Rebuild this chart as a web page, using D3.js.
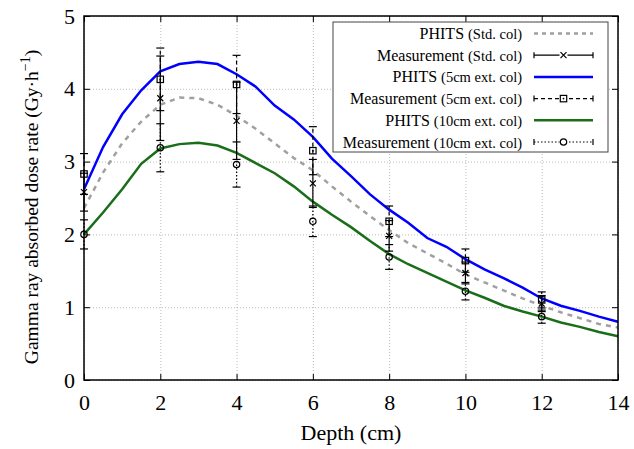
<!DOCTYPE html>
<html>
<head>
<meta charset="utf-8">
<script src="https://cdn.jsdelivr.net/npm/d3@7"></script>
<title>Gamma ray absorbed dose rate vs depth</title>
<style>
body { margin: 0; background: #fff; }
text { font-family: "Liberation Serif", "Times New Roman", serif; fill: #000; }
</style>
</head>
<body>
<div id="viz"></div>
<script>

// PHITS calculations, every 0.5 cm
var depthPHITS = [0,0.5,1,1.5,2,2.5,3,3.5,4,4.5,5,5.5,6,6.5,7,7.5,8,8.5,9,9.5,10,10.5,11,11.5,12,12.5,13,13.5,14];
var phitsStd = [2.36,2.85,3.25,3.55,3.78,3.88,3.87,3.78,3.63,3.45,3.25,3.05,2.88,2.66,2.45,2.25,2.06,1.88,1.74,1.60,1.45,1.34,1.23,1.12,1.02,0.93,0.85,0.77,0.72];
var phits5 = [2.62,3.20,3.65,3.98,4.24,4.34,4.37,4.34,4.20,4.03,3.77,3.58,3.34,3.04,2.80,2.55,2.34,2.16,1.95,1.83,1.66,1.52,1.40,1.27,1.12,1.02,0.95,0.87,0.80];
var phits10 = [2.00,2.30,2.62,2.97,3.18,3.24,3.26,3.22,3.12,2.98,2.84,2.66,2.45,2.27,2.10,1.91,1.73,1.59,1.47,1.35,1.23,1.13,1.02,0.94,0.87,0.79,0.73,0.66,0.60];

// measurements
var depthMeas = [0,2,4,6,8,10,12];
var measStd = [2.58,3.87,3.56,2.70,1.98,1.47,1.05];
var errStd = [0.26,0.58,0.53,0.33,0.21,0.15,0.11];
var meas5 = [2.83,4.13,4.06,3.15,2.18,1.64,1.10];
var err5 = [0.28,0.43,0.40,0.33,0.21,0.16,0.11];
var meas10 = [2.00,3.19,2.96,2.18,1.69,1.22,0.87];
var err10 = [0.20,0.33,0.31,0.21,0.17,0.12,0.09];

var xTicks = [0,2,4,6,8,10,12,14];
var yTicks = [0,1,2,3,4,5];

var W = 634, H = 449;
var pL = 84, pR = 618, pT = 16, pB = 380;

var svg = d3.select("#viz").append("svg")
    .attr("width", W).attr("height", H);

var x = d3.scaleLinear().domain([0, 14]).range([pL, pR]);
var y = d3.scaleLinear().domain([0, 5]).range([pB, pT]);

// grid
svg.append("g")
    .attr("transform", "translate(0," + pB + ")")
    .call(d3.axisBottom(x).tickValues(xTicks).tickSize(-(pB - pT)).tickFormat(""))
    .call(function(g){
        g.select(".domain").remove();
        g.selectAll("line").attr("stroke", "#aaa").attr("stroke-width", 0.8).attr("stroke-dasharray", "1,2");
    });
svg.append("g")
    .attr("transform", "translate(" + pL + ",0)")
    .call(d3.axisLeft(y).tickValues(yTicks).tickSize(-(pR - pL)).tickFormat(""))
    .call(function(g){
        g.select(".domain").remove();
        g.selectAll("line").attr("stroke", "#aaa").attr("stroke-width", 0.8).attr("stroke-dasharray", "1,2");
    });

// axes with inward ticks
function styleAxis(g){
    g.select(".domain").remove();
    g.selectAll("line").attr("stroke", "#000").attr("stroke-width", 1);
    g.selectAll("text").style("font-size", "22px").attr("font-family", null);
}
svg.append("g")
    .attr("transform", "translate(0," + pB + ")")
    .call(d3.axisBottom(x).tickValues(xTicks).tickSizeInner(-6).tickSizeOuter(0).tickPadding(14).tickFormat(d3.format("d")))
    .call(styleAxis);
svg.append("g")
    .attr("transform", "translate(0," + pT + ")")
    .call(d3.axisTop(x).tickValues(xTicks).tickSizeInner(-6).tickSizeOuter(0).tickFormat(""))
    .call(styleAxis);
svg.append("g")
    .attr("transform", "translate(" + pL + ",0)")
    .call(d3.axisLeft(y).tickValues(yTicks).tickSizeInner(-6).tickSizeOuter(0).tickPadding(9).tickFormat(d3.format("d")))
    .call(styleAxis);
svg.append("g")
    .attr("transform", "translate(" + pR + ",0)")
    .call(d3.axisRight(y).tickValues(yTicks).tickSizeInner(-6).tickSizeOuter(0).tickFormat(""))
    .call(styleAxis);

// PHITS lines
var line = d3.line()
    .x(function(d){ return x(d[0]); })
    .y(function(d){ return y(d[1]); });

var curves = [
    {vals: phitsStd, color: "#a0a0a0", dash: "5,5"},
    {vals: phits5, color: "#0000ff", dash: null},
    {vals: phits10, color: "#1a6e1a", dash: null}
];
curves.forEach(function(c){
    svg.append("path")
        .datum(d3.zip(depthPHITS, c.vals))
        .attr("d", line)
        .attr("fill", "none")
        .attr("stroke", c.color)
        .attr("stroke-width", 2.5)
        .attr("stroke-dasharray", c.dash);
});

// measurement markers
function marker(g, type){
    if(type == "cross"){
        g.append("path").attr("d", "M-3,-3L3,3M-3,3L3,-3")
            .attr("stroke", "#000").attr("stroke-width", 1.2);
    } else if(type == "square"){
        g.append("rect").attr("x", -3.2).attr("y", -3.2).attr("width", 6.4).attr("height", 6.4)
            .attr("fill", "none").attr("stroke", "#000").attr("stroke-width", 1.2);
        g.append("circle").attr("r", 0.9).attr("fill", "#000");
    } else {
        g.append("circle").attr("r", 3.2)
            .attr("fill", "none").attr("stroke", "#000").attr("stroke-width", 1.2);
    }
}

var meas = [
    {vals: measStd, errs: errStd, dash: null, type: "cross"},
    {vals: meas5, errs: err5, dash: "4,3", type: "square"},
    {vals: meas10, errs: err10, dash: "1.5,2", type: "circle"}
];
var capW = 4;
meas.forEach(function(m){
    var pts = depthMeas.map(function(d, i){ return {x: d, v: m.vals[i], e: m.errs[i]}; });
    var g = svg.append("g").selectAll("g").data(pts).enter().append("g");
    g.append("line")
        .attr("x1", function(d){ return x(d.x); }).attr("x2", function(d){ return x(d.x); })
        .attr("y1", function(d){ return y(d.v - d.e); }).attr("y2", function(d){ return y(d.v + d.e); })
        .attr("stroke", "#000").attr("stroke-width", 1.2).attr("stroke-dasharray", m.dash);
    g.append("line")
        .attr("x1", function(d){ return x(d.x) - capW; }).attr("x2", function(d){ return x(d.x) + capW; })
        .attr("y1", function(d){ return y(d.v + d.e); }).attr("y2", function(d){ return y(d.v + d.e); })
        .attr("stroke", "#000").attr("stroke-width", 1.2);
    g.append("line")
        .attr("x1", function(d){ return x(d.x) - capW; }).attr("x2", function(d){ return x(d.x) + capW; })
        .attr("y1", function(d){ return y(d.v - d.e); }).attr("y2", function(d){ return y(d.v - d.e); })
        .attr("stroke", "#000").attr("stroke-width", 1.2);
    g.append("g")
        .attr("transform", function(d){ return "translate(" + x(d.x) + "," + y(d.v) + ")"; })
        .each(function(){ marker(d3.select(this), m.type); });
});

// frame
svg.append("rect")
    .attr("x", pL).attr("y", pT)
    .attr("width", pR - pL).attr("height", pB - pT)
    .attr("fill", "none").attr("stroke", "#000").attr("stroke-width", 1.5);

// legend
var legend = [
    {main: "PHITS", sub: "(Std. col)", kind: "line", color: "#a0a0a0", dash: "4,4"},
    {main: "Measurement", sub: "(Std. col)", kind: "err", dash: null, type: "cross"},
    {main: "PHITS", sub: "(5cm ext. col)", kind: "line", color: "#0000ff", dash: null},
    {main: "Measurement", sub: "(5cm ext. col)", kind: "err", dash: "4,3", type: "square"},
    {main: "PHITS", sub: "(10cm ext. col)", kind: "line", color: "#1a6e1a", dash: null},
    {main: "Measurement", sub: "(10cm ext. col)", kind: "err", dash: "1.5,2", type: "circle"}
];
var lg = svg.append("g");
lg.append("rect")
    .attr("x", 333).attr("y", 22).attr("width", 275).attr("height", 130)
    .attr("fill", "#fff").attr("stroke", "#444").attr("stroke-width", 1);

var rows = lg.selectAll("g.row").data(legend).enter().append("g")
    .attr("class", "row")
    .attr("transform", function(d, i){ return "translate(0," + (33.5 + i * 21.7) + ")"; });

var txt = rows.append("text")
    .attr("x", 522).attr("y", 5.5)
    .attr("text-anchor", "end");
txt.append("tspan").style("font-size", "16px").text(function(d){ return d.main + " "; });
txt.append("tspan").style("font-size", "14.5px").text(function(d){ return d.sub; });

rows.each(function(d){
    var r = d3.select(this);
    if(d.kind == "line"){
        r.append("line").attr("x1", 534).attr("x2", 593).attr("y1", 0).attr("y2", 0)
            .attr("stroke", d.color).attr("stroke-width", 2.5).attr("stroke-dasharray", d.dash);
    } else {
        r.append("line").attr("x1", 534).attr("x2", 593).attr("y1", 0).attr("y2", 0)
            .attr("stroke", "#000").attr("stroke-width", 1.2).attr("stroke-dasharray", d.dash);
        r.append("line").attr("x1", 534).attr("x2", 534).attr("y1", -3).attr("y2", 3)
            .attr("stroke", "#000").attr("stroke-width", 1.2);
        r.append("line").attr("x1", 593).attr("x2", 593).attr("y1", -3).attr("y2", 3)
            .attr("stroke", "#000").attr("stroke-width", 1.2);
        var mg = r.append("g").attr("transform", "translate(563.5,0)");
        mg.append("rect").attr("x", -4).attr("y", -4).attr("width", 8).attr("height", 8).attr("fill", "#fff");
        marker(mg, d.type);
    }
});

// axis titles
svg.append("text")
    .attr("x", (pL + pR) / 2).attr("y", 440)
    .attr("text-anchor", "middle")
    .style("font-size", "22px")
    .text("Depth (cm)");

var yl = svg.append("text")
    .attr("transform", "translate(38,207) rotate(-90)")
    .attr("text-anchor", "middle")
    .style("font-size", "19.5px");
yl.append("tspan").text("Gamma ray absorbed dose rate (Gy\u00b7h");
yl.append("tspan").attr("dy", -8).style("font-size", "14px").text("\u22121");
yl.append("tspan").attr("dy", 8).text(")");

</script>
</body>
</html>
